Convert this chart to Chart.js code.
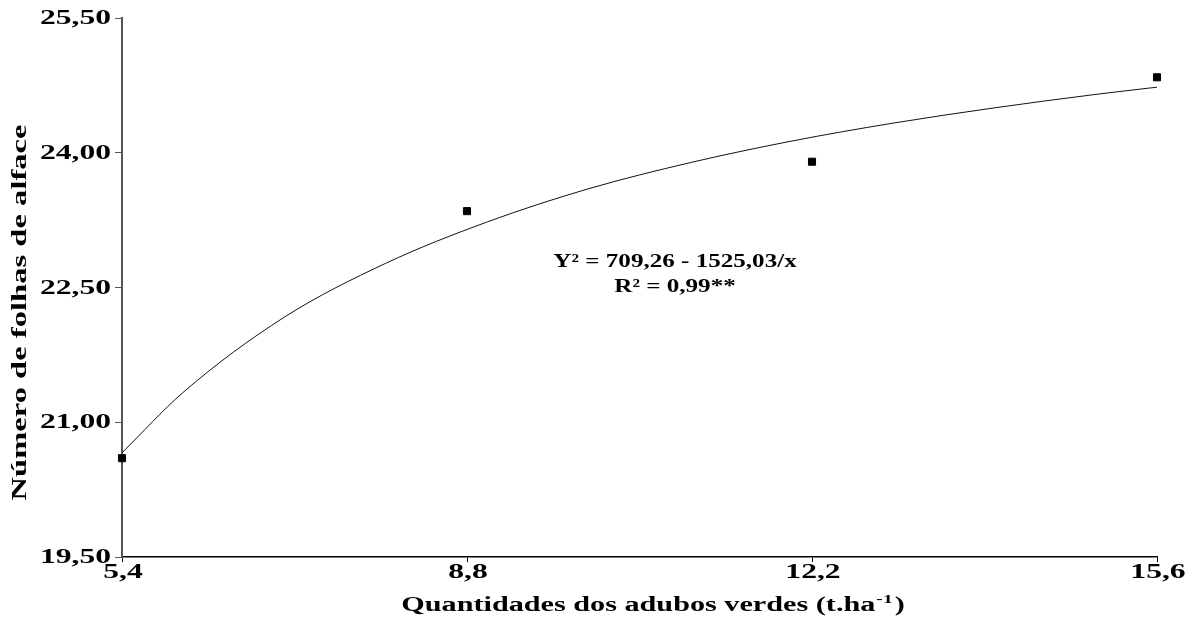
<!DOCTYPE html>
<html>
<head>
<meta charset="utf-8">
<script src="https://cdn.jsdelivr.net/npm/chart.js@4"></script>
<style>
html,body{margin:0;padding:0;background:#fff;}
#wrap{width:1193px;height:617px;}
</style>
</head>
<body>
<div id="wrap"><canvas id="grafico"></canvas></div>
<script>
// dados
let doses=[5.4,8.8,12.2,15.6];
let folhas=[20.60,23.35,23.90,24.84];

// curva ajustada
let curvaX=[5.4,6,7,8,9,10,11,12,13,14,15,15.6];
let curvaY=[20.66,21.33,22.17,22.77,23.23,23.60,23.89,24.13,24.33,24.50,24.65,24.73];

let xTicks=[5.4,8.8,12.2,15.6];
let yTicks=[19.5,21,22.5,24,25.5];

let tituloX=["Quantidades dos adubos verdes (t.ha","-1",")"];
let tituloY="Número de folhas de alface";
let equacao=["Y² = 709,26 - 1525,03/x","R² = 0,99**"];

let fmtX=v=>v.toFixed(1).replace(".",",");
let fmtY=v=>v.toFixed(2).replace(".",",");


// textos em Times negrito "esticado", como no original
function texto(ctx,s,x,y,tam,sx,align,rot,base){
ctx.save();
ctx.translate(x,y);
if(rot) ctx.rotate(rot);
ctx.scale(sx,1);
ctx.font="bold "+tam+"px 'Liberation Serif'";
ctx.textAlign=align;
ctx.textBaseline=base||"middle";
ctx.fillText(s,0,0);
ctx.restore();
}

let textos={
id:"textos",
afterDraw(chart){
let ctx=chart.ctx;
let xs=chart.scales.x;
let ys=chart.scales.y;
ctx.save();
ctx.fillStyle="#000";

yTicks.forEach(v=>texto(ctx,fmtY(v),111,ys.getPixelForValue(v)+1,20,1.58,"right"));
xTicks.forEach(v=>texto(ctx,fmtX(v),xs.getPixelForValue(v)+1,573,20,1.58,"center"));

// título do eixo x com expoente
let sx=1.51;
ctx.font="bold 20px 'Liberation Serif'";
let w0=ctx.measureText(tituloX[0]).width*sx;
let w2=ctx.measureText(tituloX[2]).width*sx;
ctx.font="bold 13px 'Liberation Serif'";
let w1=ctx.measureText(tituloX[1]).width*sx+3;
let total=w0+w1+w2;
let x0=653-total/2;
texto(ctx,tituloX[0],x0,611,20,sx,"left",0,"alphabetic");
texto(ctx,tituloX[1],x0+w0+1,603,13,sx,"left",0,"alphabetic");
texto(ctx,tituloX[2],x0+w0+w1,611,20,sx,"left",0,"alphabetic");

// título do eixo y
texto(ctx,tituloY,21,(ys.top+ys.bottom)/2+25,20,1.63,"center",-Math.PI/2);

// equação
let xe=xs.getPixelForValue(10.85);
texto(ctx,equacao[0],xe,ys.getPixelForValue(22.78),19,1.32,"center");
texto(ctx,equacao[1],xe,ys.getPixelForValue(22.50),19,1.32,"center");

ctx.restore();
}
};

new Chart(
document.getElementById("grafico"),
{
type:"scatter",
data:{
datasets:[
{
data:doses.map((d,i)=>({x:d,y:folhas[i]})),
backgroundColor:"#000",
borderColor:"#000",
pointStyle:"rect",
pointRadius:5,
borderWidth:1,
clip:false
},
{
data:curvaX.map((d,i)=>({x:d,y:curvaY[i]})),
showLine:true,
borderColor:"#111",
borderWidth:1,
pointRadius:0,
cubicInterpolationMode:"monotone",
clip:false
}
]
},
plugins:[textos],
options:{
responsive:true,
maintainAspectRatio:false,
animation:false,
layout:{padding:{top:18,right:36,left:0,bottom:0}},
plugins:{legend:{display:false},tooltip:{enabled:false}},
scales:{
x:{
type:"linear",
min:5.4,
max:15.6,
afterBuildTicks(s){ s.ticks=xTicks.map(v=>({value:v})); },
afterFit(s){ s.height=60; },
grid:{drawOnChartArea:false,drawTicks:true,tickLength:5,color:"#000"},
border:{display:true,color:"#000",width:1.5},
ticks:{display:false}
},
y:{
min:19.5,
max:25.5,
afterBuildTicks(s){ s.ticks=yTicks.map(v=>({value:v})); },
afterFit(s){ s.width=122; },
grid:{drawOnChartArea:false,drawTicks:true,tickLength:7,color:"#555"},
border:{display:true,color:"#555",width:2},
ticks:{display:false}
}
}
}
}
);
</script>
</body>
</html>
